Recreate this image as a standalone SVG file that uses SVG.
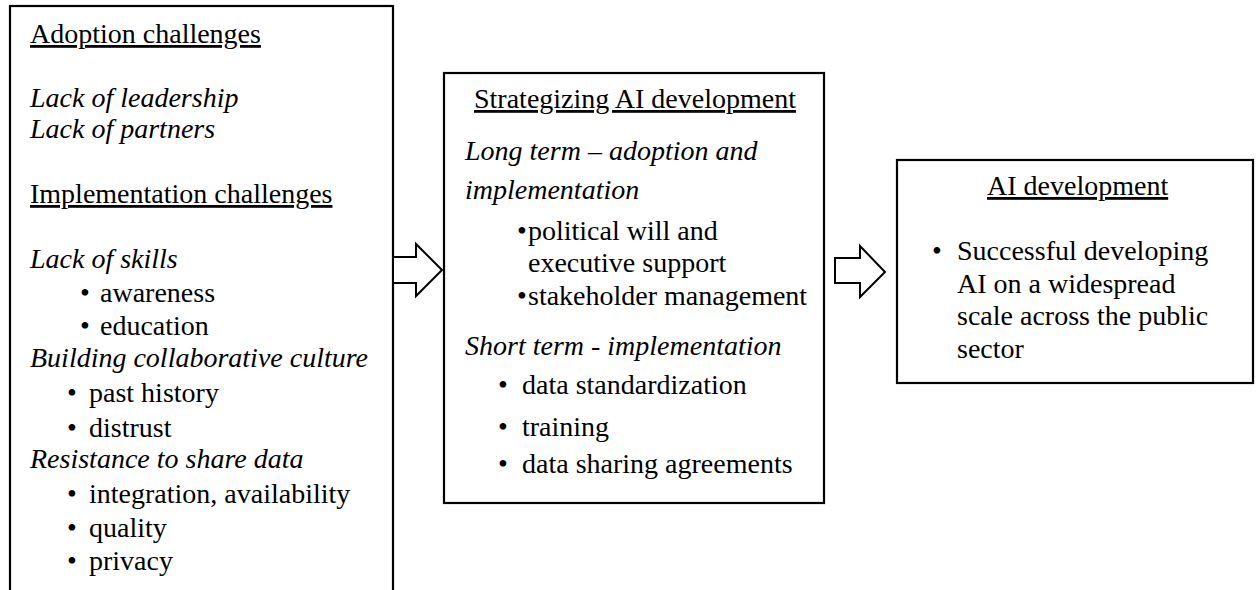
<svg xmlns="http://www.w3.org/2000/svg" width="1257" height="590" viewBox="0 0 1257 590">
<style>
text{font-family:'Liberation Serif','Times New Roman',Tinos,'DejaVu Serif',serif;font-size:28px;fill:#000}
.u{text-decoration:underline}
.i{font-style:italic}
.box{fill:#fff;stroke:#000;stroke-width:2.2}
.arr{fill:#fff;stroke:#000;stroke-width:2;stroke-linejoin:miter}
</style>
<rect width="1257" height="590" fill="#fff"/>
<g id="challenges" font-family="Liberation Serif, serif">
<rect class="box" x="10" y="6" width="383" height="600"/>
<text class="u" x="30" y="43">Adoption challenges</text>
<text class="i" x="30" y="107">Lack of leadership</text>
<text class="i" x="30" y="138">Lack of partners</text>
<text class="u" x="30" y="203">Implementation challenges</text>
<text class="i" x="30" y="268">Lack of skills</text>
<text x="80" y="302">•</text><text x="100" y="302">awareness</text>
<text x="80" y="335">•</text><text x="100" y="335">education</text>
<text class="i" x="30" y="367">Building collaborative culture</text>
<text x="67" y="402">•</text><text x="89" y="402">past history</text>
<text x="67" y="437">•</text><text x="89" y="437">distrust</text>
<text class="i" x="30" y="468">Resistance to share data</text>
<text x="67" y="503">•</text><text x="89" y="503">integration, availability</text>
<text x="67" y="537">•</text><text x="89" y="537">quality</text>
<text x="67" y="570">•</text><text x="89" y="570">privacy</text>
</g>
<g id="strategizing">
<rect class="box" x="444" y="73" width="380" height="430"/>
<text class="u" x="474" y="108">Strategizing AI development</text>
<text class="i" x="465" y="160">Long term – adoption and</text>
<text class="i" x="465" y="199">implementation</text>
<text x="517" y="240">•</text><text x="528" y="240">political will and</text>
<text x="528" y="272">executive support</text>
<text x="517" y="305">•</text><text x="528" y="305">stakeholder management</text>
<text class="i" x="465" y="355">Short term - implementation</text>
<text x="498" y="394">•</text><text x="522" y="394">data standardization</text>
<text x="498" y="436">•</text><text x="522" y="436">training</text>
<text x="498" y="473">•</text><text x="522" y="473">data sharing agreements</text>
</g>
<g id="development">
<rect class="box" x="897" y="160" width="356" height="223"/>
<text class="u" x="987" y="195">AI development</text>
<text x="932" y="260">•</text><text x="957" y="260">Successful developing</text>
<text x="957" y="293">AI on a widespread</text>
<text x="957" y="325">scale across the public</text>
<text x="957" y="358">sector</text>
</g>
<g id="connectors">
<polygon class="arr" points="393,257 416,257 416,244 442,270 416,296 416,283 393,283"/>
<polygon class="arr" points="835,258 860,258 860,246 885,272 860,297 860,283 835,283"/>
</g>
</svg>
